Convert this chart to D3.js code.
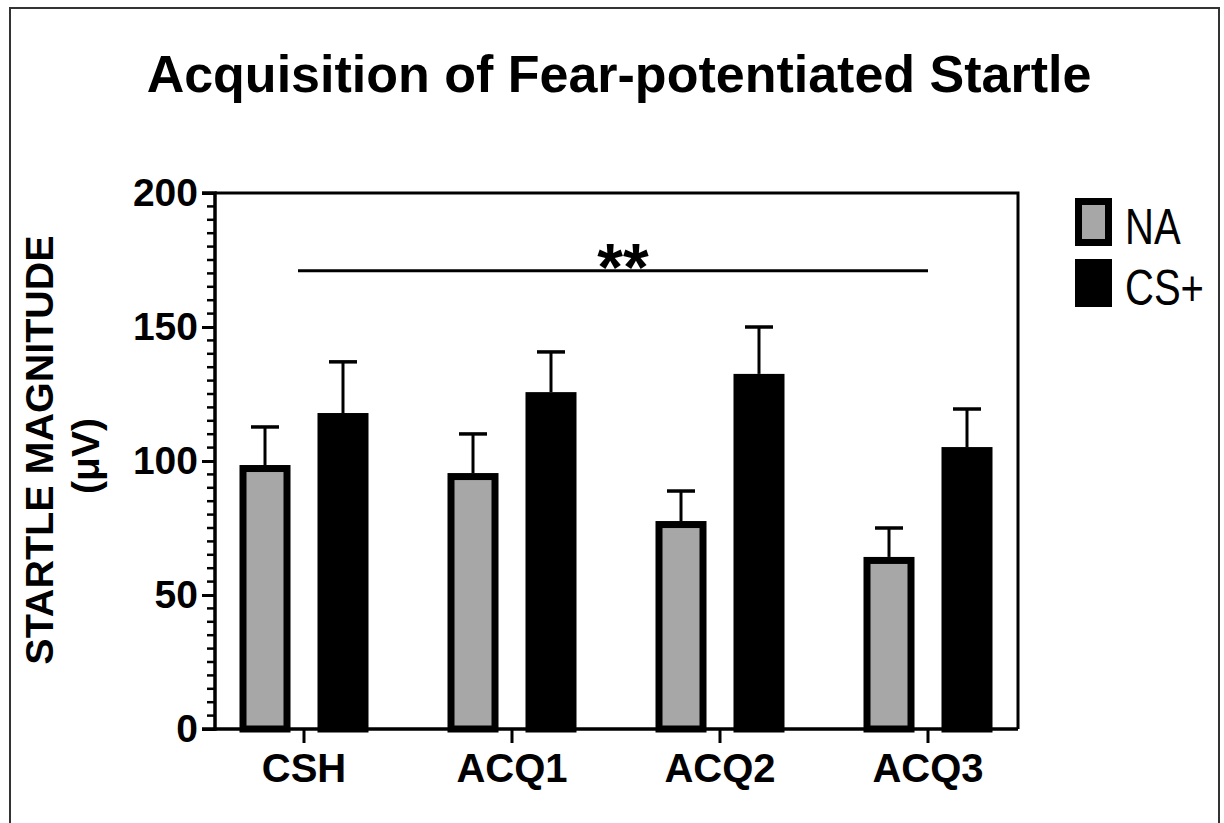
<!DOCTYPE html>
<html>
<head>
<meta charset="utf-8">
<script src="https://cdn.jsdelivr.net/npm/d3@7"></script>
<style>
  body { margin: 0; background: #fff; }
  text { font-family: "Liberation Sans", Arial, sans-serif; }
</style>
</head>
<body>
<div id="chart"></div>
<script>
// data
var categories = ["CSH", "ACQ1", "ACQ2", "ACQ3"];
var groups = ["NA", "CS+"];
var naMean = [98.5, 95.5, 77.6, 64.2];
var naSem = [14.2, 14.6, 11.2, 10.8];
var csMean = [117.9, 125.7, 132.5, 105.2];
var csSem = [19.1, 15.0, 17.5, 14.2];
var yTicks = [0, 50, 100, 150, 200];

var width = 1224, height = 823;
var plot = {left: 215, right: 1018, top: 193, bottom: 729};
var gray = "#a7a7a7";

var svg = d3.select("#chart").append("svg")
    .attr("width", width)
    .attr("height", height);

// outer frame
svg.append("rect")
    .attr("x", 10).attr("y", 8)
    .attr("width", 1209).attr("height", 830)
    .attr("fill", "none").attr("stroke", "#333").attr("stroke-width", 2);

// title
svg.append("text")
    .attr("x", 619).attr("y", 92)
    .attr("text-anchor", "middle")
    .attr("font-size", 52).attr("font-weight", "bold")
    .text("Acquisition of Fear-potentiated Startle");

var y = d3.scaleLinear().domain([0, 200]).range([plot.bottom, plot.top]);
var x = d3.scaleBand().domain(categories).range([200, 1032]);
var xSub = d3.scaleBand().domain(groups).range([39.5, 168.5]).paddingInner(0.346);

var rows = categories.map(function(c, i) {
  return [
    {cat: c, group: "NA", mean: naMean[i], sem: naSem[i]},
    {cat: c, group: "CS+", mean: csMean[i], sem: csSem[i]}
  ];
});
var flat = [].concat.apply([], rows);

var bw = 7;
// error bars (upward only)
var capW = 28;
svg.append("g").selectAll("line.err")
    .data(flat).enter().append("line")
    .attr("x1", function(d){ return x(d.cat) + xSub(d.group) + xSub.bandwidth()/2; })
    .attr("x2", function(d){ return x(d.cat) + xSub(d.group) + xSub.bandwidth()/2; })
    .attr("y1", function(d){ return y(d.mean); })
    .attr("y2", function(d){ return y(d.mean + d.sem); })
    .attr("stroke", "#000").attr("stroke-width", 3);
svg.append("g").selectAll("line.cap")
    .data(flat).enter().append("line")
    .attr("x1", function(d){ return x(d.cat) + xSub(d.group) + xSub.bandwidth()/2 - capW/2; })
    .attr("x2", function(d){ return x(d.cat) + xSub(d.group) + xSub.bandwidth()/2 + capW/2; })
    .attr("y1", function(d){ return y(d.mean + d.sem); })
    .attr("y2", function(d){ return y(d.mean + d.sem); })
    .attr("stroke", "#000").attr("stroke-width", 3.5);

// bars
svg.append("g").selectAll("rect")
    .data(flat).enter().append("rect")
    .attr("x", function(d){ return x(d.cat) + xSub(d.group) + bw/2; })
    .attr("width", xSub.bandwidth() - bw)
    .attr("y", function(d){ return y(d.mean) + bw/2; })
    .attr("height", function(d){ return y(0) - y(d.mean) - bw/2; })
    .attr("fill", function(d){ return d.group == "NA" ? gray : "#000"; })
    .attr("stroke", "#000").attr("stroke-width", bw);

// plot box top/right
svg.append("path")
    .attr("d", "M" + plot.left + "," + plot.top + "H" + plot.right + "V" + plot.bottom)
    .attr("fill", "none").attr("stroke", "#000").attr("stroke-width", 3);

// y axis
var yAxis = d3.axisLeft(y).tickValues(yTicks).tickSize(13).tickFormat(d3.format("d"));
var yg = svg.append("g").attr("transform", "translate(" + plot.left + ",0)").call(yAxis);
yg.select(".domain").attr("stroke-width", 3.5).attr("d", "M-13," + plot.top + "H0V" + plot.bottom + "H-13");
yg.selectAll(".tick line").attr("stroke-width", 3);
yg.selectAll(".tick text")
    .attr("x", -17)
    .attr("font-size", 39).attr("font-weight", "bold")
    .attr("font-family", "Liberation Sans, Arial, sans-serif")
    .attr("fill", "#000");
// minor ticks every 5
var minor = d3.range(5, 200, 5).filter(function(v){ return v % 50 != 0; });
svg.append("g").selectAll("line")
    .data(minor).enter().append("line")
    .attr("x1", plot.left - 8).attr("x2", plot.left)
    .attr("y1", function(d){ return y(d); }).attr("y2", function(d){ return y(d); })
    .attr("stroke", "#000").attr("stroke-width", 2.5);

// x axis
var xAxis = d3.axisBottom(x).tickSize(14);
var xg = svg.append("g").attr("transform", "translate(0," + plot.bottom + ")").call(xAxis);
xg.select(".domain").attr("stroke-width", 3.5).attr("d", "M" + plot.left + ",0H" + plot.right);
xg.selectAll(".tick line").attr("stroke-width", 3);
xg.selectAll(".tick text")
    .attr("y", 53).attr("dy", 0)
    .attr("font-size", 40).attr("font-weight", "bold")
    .attr("font-family", "Liberation Sans, Arial, sans-serif")
    .attr("fill", "#000");

// y axis title
svg.append("text")
    .attr("transform", "translate(53,450) rotate(-90)")
    .attr("text-anchor", "middle")
    .attr("font-size", 39.5).attr("font-weight", "bold")
    .text("STARTLE MAGNITUDE");
svg.append("text")
    .attr("transform", "translate(99,456) rotate(-90)")
    .attr("text-anchor", "middle")
    .attr("font-size", 39).attr("font-weight", "bold")
    .text("(\u03bcV)");

// significance bar
var sigY = y(171);
svg.append("line")
    .attr("x1", x("CSH") + x.bandwidth()/2 - 6)
    .attr("x2", x("ACQ3") + x.bandwidth()/2)
    .attr("y1", sigY).attr("y2", sigY)
    .attr("stroke", "#000").attr("stroke-width", 3);
svg.append("text")
    .attr("x", 623).attr("y", sigY + 19)
    .attr("text-anchor", "middle")
    .attr("font-size", 66).attr("font-weight", "bold")
    .text("**");

// legend
var legend = svg.append("g");
var legY = [198, 259];
groups.forEach(function(g, i) {
  legend.append("rect")
      .attr("x", 1075 + 3.5).attr("y", legY[i] + 3.5)
      .attr("width", 37 - 7).attr("height", 48 - 7)
      .attr("fill", g == "NA" ? gray : "#000")
      .attr("stroke", "#000").attr("stroke-width", 7);
  legend.append("text")
      .attr("transform", "translate(1125," + (legY[i] + 46) + ") scale(1,1.25)")
      .attr("font-size", 40)
      .text(g);
});
</script>
</body>
</html>
